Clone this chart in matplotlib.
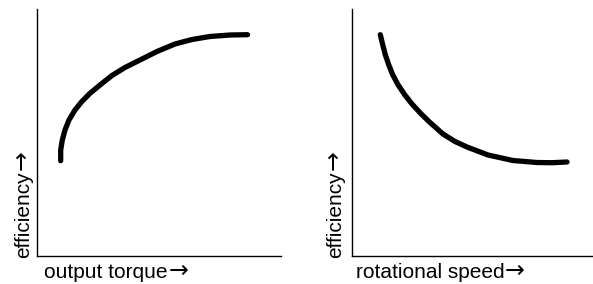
import matplotlib
matplotlib.use("Agg")
import matplotlib.pyplot as plt

plt.rcParams['font.family'] = ['Liberation Sans', 'DejaVu Sans']

# Left panel: efficiency vs output torque (arbitrary units 0-100)
torque = [9.71, 9.71, 10.37, 11.48, 13.11, 15.57, 18.32, 21.72, 25.82, 30.74,
          36.07, 42.21, 49.18, 56.56, 63.52, 70.90, 79.10, 86.27]
eff_torque = [38.58, 42.91, 46.96, 51.01, 55.06, 59.11, 62.47, 65.87, 69.23, 73.08,
              76.32, 79.35, 82.79, 85.83, 87.65, 88.87, 89.47, 89.60]

# Right panel: efficiency vs rotational speed
speed = [11.79, 12.79, 13.88, 15.29, 16.96, 19.17, 21.96, 25.0, 28.46, 31.96,
         37.92, 42.92, 47.92, 56.67, 67.08, 77.08, 83.33, 89.58]
eff_speed = [89.60, 85.55, 81.50, 77.45, 73.40, 69.35, 65.30, 61.54, 57.89, 54.53,
             49.39, 46.36, 44.13, 40.89, 38.66, 37.85, 37.77, 38.06]

xlabels = ["output torque", "rotational speed"]
ylabel = "efficiency"
arrow = "\u2192"

W, H = 593, 284
fig = plt.figure(figsize=(W / 100, H / 100), dpi=100)

def px_axes(x0, x1, ytop, ybot):
    return fig.add_axes([x0 / W, (H - ybot) / H, (x1 - x0) / W, (ybot - ytop) / H])

ax1 = px_axes(37, 281, 9, 256)
ax2 = px_axes(352, 592, 9, 256)

for ax, xs, ys in [(ax1, torque, eff_torque), (ax2, speed, eff_speed)]:
    ax.plot(xs, ys, color='black', lw=3.8, solid_capstyle='round', solid_joinstyle='round')
    ax.set_xlim(0, 100)
    ax.set_ylim(0, 100)
    ax.set_xticks([])
    ax.set_yticks([])
    for s in ['top', 'right']:
        ax.spines[s].set_visible(False)
    for s in ['left', 'bottom']:
        ax.spines[s].set_linewidth(1.0)

fs = 15
afs = 17
renderer = fig.canvas.get_renderer()

def xlabel_at(px, py, txt):
    t = fig.text(px / W, (H - py) / H, txt, ha='left', va='baseline', fontsize=fs)
    bb = t.get_window_extent(renderer)
    fig.text(bb.x1 / W + 1 / W, (H - py) / H, arrow, ha='left', va='baseline',
             fontsize=afs, family='DejaVu Sans')

def ylabel_at(px, py, txt):
    t = fig.text(px / W, (H - py) / H, txt, rotation=90, rotation_mode='anchor',
                 ha='left', va='baseline', fontsize=fs)
    bb = t.get_window_extent(renderer)
    fig.text(px / W, (H - py) / H + (bb.height + 1) / H, arrow, rotation=90,
             rotation_mode='anchor', ha='left', va='baseline',
             fontsize=afs, family='DejaVu Sans')

ylabel_at(29, 258, ylabel)
ylabel_at(341, 258, ylabel)
xlabel_at(44, 278, xlabels[0])
xlabel_at(355.5, 278, xlabels[1])

fig.savefig("out.png", dpi=100)
